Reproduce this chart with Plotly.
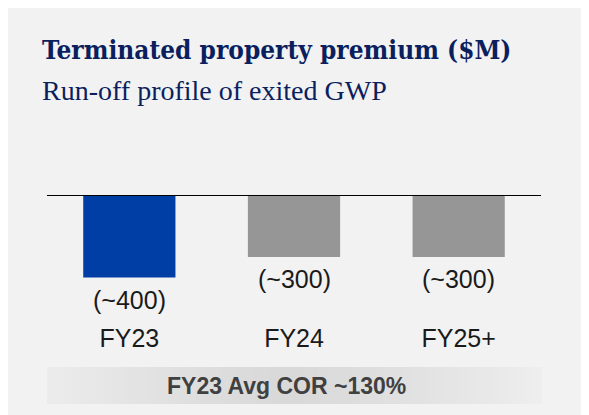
import plotly.graph_objects as go

categories = ["FY23", "FY24", "FY25+"]
values = [-400, -300, -300]
value_labels = ["(~400)", "(~300)", "(~300)"]
bar_colors = ["#003DA5", "#969696", "#969696"]
title_text = "Terminated property premium ($M)"
subtitle_text = "Run-off profile of exited GWP"
footer_text = "FY23 Avg COR ~130%"

W, H = 600, 415
OFF = 8  # page body margin offset

def px_x(p):
    return (p - OFF) / W

def px_y(p):
    return (H - (p - OFF)) / H

SCALE = 0.20625  # px per unit
ZERO_PX = 195.0
YMIN = -608.5

fig = go.Figure()
fig.add_trace(go.Bar(
    x=categories, y=values, marker=dict(color=bar_colors, line=dict(width=0)),
    width=0.56, hoverinfo="skip",
))

shapes = []
# gradient footer band (stripes)
n = 60
bx0, bx1, by0, by1 = 47, 542, 367, 404
for i in range(n):
    t = (i + 0.5) / n
    d = abs(t - 0.48) / 0.52
    v = int(round(0xd9 + (0xee - 0xd9) * (d ** 1.3)))
    col = "#%02x%02x%02x" % (v, v, v)
    xa = bx0 + (bx1 - bx0) * i / n
    xb = bx0 + (bx1 - bx0) * (i + 1) / n + 0.6
    shapes.append(dict(type="rect", xref="paper", yref="paper", x0=px_x(xa), x1=px_x(min(xb, bx1)),
                       y0=px_y(by1), y1=px_y(by0), fillcolor=col, line=dict(width=0), layer="below"))
# zero line
shapes.append(dict(type="line", xref="x domain", yref="y", x0=0, x1=1, y0=0, y1=0,
                   line=dict(color="#000000", width=2)))

annotations = [
    dict(text="<b>" + title_text + "</b>", xref="paper", yref="paper", x=px_x(40), y=px_y(50),
         xanchor="left", yanchor="middle", showarrow=False,
         font=dict(family="DejaVu Serif Condensed, DejaVu Serif", size=26, color="#0b1f5e")),
    dict(text=subtitle_text, xref="paper", yref="paper", x=px_x(40), y=px_y(91),
         xanchor="left", yanchor="middle", showarrow=False,
         font=dict(family="Liberation Serif", size=28, color="#0b1f5e")),
    dict(text="<b>" + footer_text + "</b>", xref="paper", yref="paper", x=px_x(286), y=px_y(386),
         xanchor="center", yanchor="middle", showarrow=False,
         font=dict(family="Liberation Sans, Arial", size=23, color="#404040")),
]
for c, v, lab in zip(categories, values, value_labels):
    annotations.append(dict(text=lab, x=c, y=v, xref="x", yref="y", yanchor="top",
                            yshift=-6, showarrow=False,
                            font=dict(family="Liberation Sans, Arial", size=25, color="#1a1a1a")))

fig.update_layout(
    width=W, height=H, margin=dict(l=0, r=0, t=0, b=0),
    paper_bgcolor="#f2f2f2", plot_bgcolor="rgba(0,0,0,0)",
    showlegend=False, shapes=shapes, annotations=annotations,
    xaxis=dict(domain=[px_x(47), px_x(541)], range=[-0.5, 2.5], type="category",
               showgrid=False, zeroline=False, showline=False, ticks="",
               tickfont=dict(family="Liberation Sans, Arial", size=25, color="#1a1a1a"),
               fixedrange=True),
    yaxis=dict(domain=[px_y(ZERO_PX - YMIN * SCALE), px_y(ZERO_PX)], range=[YMIN, 0],
               showgrid=False, zeroline=False, showline=False, showticklabels=False,
               ticks="", fixedrange=True),
)

fig.write_html("out.html")
